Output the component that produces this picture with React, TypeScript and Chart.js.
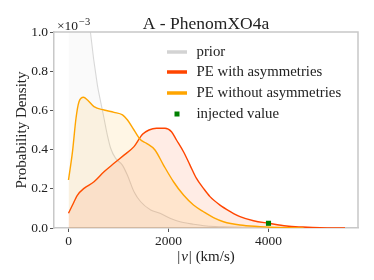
import React, { useEffect, useRef } from "react";
import { Chart, registerables } from "chart.js";

Chart.register(...registerables);

// ---- data (density in units of 1e-3) ----
const priorV = [0, 100, 200, 300, 430, 577, 643, 710, 777, 843, 943, 1077, 1177, 1310, 1443, 1643, 1830, 2030, 2230, 2500, 2760, 3100, 3500, 4000, 5000];
const priorD = [5, 2.8, 1.9, 1.4, 1.02, 0.73, 0.644, 0.56, 0.474, 0.407, 0.355, 0.321, 0.27, 0.185, 0.134, 0.092, 0.075, 0.05, 0.032, 0.019, 0.01, 0.006, 0.003, 0.001, 0];

const withAsymV = [0, 80, 180, 310, 510, 710, 910, 1110, 1310, 1480, 1610, 1760, 1930, 2060, 2160, 2300, 2430, 2560, 2700, 2830, 3030, 3230, 3430, 3700, 4000, 4360, 4690, 5030, 5530];
const withAsymD = [0.075, 0.117, 0.168, 0.202, 0.236, 0.287, 0.33, 0.372, 0.415, 0.478, 0.5, 0.509, 0.509, 0.491, 0.449, 0.389, 0.321, 0.253, 0.202, 0.16, 0.117, 0.085, 0.058, 0.037, 0.024, 0.01, 0.005, 0.0015, 0];

const withoutAsymV = [0, 80, 150, 210, 300, 380, 510, 710, 910, 1080, 1180, 1310, 1440, 1560, 1730, 1900, 2100, 2300, 2500, 2700, 2900, 3100, 3430, 3830, 4030, 4400, 4700];
const withoutAsymD = [0.245, 0.39, 0.56, 0.644, 0.667, 0.653, 0.619, 0.602, 0.59, 0.577, 0.551, 0.5, 0.45, 0.432, 0.398, 0.321, 0.236, 0.168, 0.117, 0.083, 0.053, 0.032, 0.015, 0.007, 0.004, 0.001, 0];

const injectedV = [4000];
const injectedD = [0.024];

const xTicks = [0, 2000, 4000];
const yTicks = [0, 0.2, 0.4, 0.6, 0.8, 1.0];

const legendLabels = ["prior", "PE with asymmetries", "PE without asymmetries", "injected value"];

const SERIF = '"Liberation Serif", "DejaVu Serif", serif';

const pts = (xs: number[], ys: number[]) => xs.map((x, i) => ({ x, y: ys[i] }));

const decorPlugin = {
  id: "decor",
  afterDraw(chart: any) {
    const { ctx, chartArea } = chart;
    const { left, right, top, bottom } = chartArea;
    ctx.save();
    // top & right spines
    ctx.strokeStyle = "#c8c8c8";
    ctx.lineWidth = 1.5;
    ctx.beginPath();
    ctx.moveTo(left, top);
    ctx.lineTo(right, top);
    ctx.lineTo(right, bottom);
    ctx.stroke();

    ctx.fillStyle = "#222";
    // title
    ctx.font = `17.5px ${SERIF}`;
    ctx.textAlign = "center";
    ctx.textBaseline = "alphabetic";
    ctx.fillText("A - PhenomXO4a", (left + right) / 2, 29);

    // offset text
    ctx.textAlign = "left";
    ctx.font = `13.5px ${SERIF}`;
    const base = "×10";
    ctx.fillText(base, 57, 30);
    const bw = ctx.measureText(base).width;
    ctx.font = `10.5px ${SERIF}`;
    ctx.fillText("−3", 57 + bw + 1, 24.5);

    // x axis title with italic v
    const cx = (left + right) / 2;
    const partA = "|";
    const partB = "v";
    const partC = "| (km/s)";
    ctx.font = `15px ${SERIF}`;
    const wA = ctx.measureText(partA).width;
    const wC = ctx.measureText(partC).width;
    ctx.font = `italic 15px ${SERIF}`;
    const wB = ctx.measureText(partB).width;
    const total = wA + wB + wC + 2;
    let x0 = cx - total / 2;
    ctx.textBaseline = "middle";
    ctx.font = `15px ${SERIF}`;
    ctx.fillText(partA, x0, 257);
    x0 += wA + 1;
    ctx.font = `italic 15px ${SERIF}`;
    ctx.fillText(partB, x0, 257);
    x0 += wB + 1;
    ctx.font = `15px ${SERIF}`;
    ctx.fillText(partC, x0, 257);

    // y axis title
    ctx.save();
    ctx.translate(22, (top + bottom) / 2);
    ctx.rotate(-Math.PI / 2);
    ctx.textAlign = "center";
    ctx.textBaseline = "middle";
    ctx.font = `15px ${SERIF}`;
    ctx.fillText("Probability Density", 0, 0);
    ctx.restore();

    // legend
    const rows = [52, 72, 93, 114];
    const colors = ["#d3d3d3", "#ff4500", "#ffa500"];
    ctx.lineCap = "butt";
    for (let i = 0; i < 3; i++) {
      ctx.strokeStyle = colors[i];
      ctx.lineWidth = 3.5;
      ctx.beginPath();
      ctx.moveTo(167, rows[i]);
      ctx.lineTo(187, rows[i]);
      ctx.stroke();
    }
    ctx.fillStyle = "#008000";
    ctx.fillRect(177 - 2.5, rows[3] - 2.5, 5, 5);
    ctx.fillStyle = "#222";
    ctx.font = `14.8px ${SERIF}`;
    ctx.textAlign = "left";
    ctx.textBaseline = "middle";
    legendLabels.forEach((t, i) => ctx.fillText(t, 196.5, rows[i]));
    ctx.restore();
  },
};

const bgPlugin = {
  id: "bg",
  beforeDraw(chart: any) {
    const { ctx, width, height } = chart;
    ctx.save();
    ctx.fillStyle = "#ffffff";
    ctx.fillRect(0, 0, width, height);
    ctx.restore();
  },
};

export default function App() {
  const ref = useRef<HTMLCanvasElement | null>(null);
  useEffect(() => {
    if (!ref.current) return;
    const tickFont = { family: SERIF, size: 13.5 };
    const chart = new Chart(ref.current, {
      type: "line",
      data: {
        datasets: [
          {
            label: legendLabels[3],
            data: pts(injectedV, injectedD),
            showLine: false,
            pointStyle: "rect",
            pointRadius: 3.6,
            pointBackgroundColor: "#008000",
            pointBorderColor: "#008000",
            pointBorderWidth: 0,
            order: 0,
          } as any,
          {
            label: legendLabels[2],
            data: pts(withoutAsymV, withoutAsymD),
            borderColor: "#ffa500",
            backgroundColor: "rgba(255,165,0,0.1)",
            borderWidth: 1.4,
            fill: "origin",
            pointRadius: 0,
            cubicInterpolationMode: "monotone",
            order: 1,
          },
          {
            label: legendLabels[1],
            data: pts(withAsymV, withAsymD),
            borderColor: "#ff4500",
            backgroundColor: "rgba(255,69,0,0.1)",
            borderWidth: 1.4,
            fill: "origin",
            pointRadius: 0,
            cubicInterpolationMode: "monotone",
            order: 2,
          },
          {
            label: legendLabels[0],
            data: pts(priorV, priorD),
            borderColor: "#d8d8d8",
            backgroundColor: "rgba(211,211,211,0.12)",
            borderWidth: 1.1,
            fill: "origin",
            pointRadius: 0,
            cubicInterpolationMode: "monotone",
            order: 3,
          },
        ],
      },
      options: {
        animation: false,
        responsive: false,
        devicePixelRatio: 1,
        layout: { padding: { left: 0, right: 16, top: 32, bottom: 0 } },
        plugins: { legend: { display: false }, title: { display: false }, tooltip: { enabled: false } },
        scales: {
          x: {
            type: "linear",
            min: -290,
            max: 5790,
            afterBuildTicks: (s: any) => {
              s.ticks = xTicks.map((v) => ({ value: v }));
            },
            afterFit: (s: any) => {
              s.height = 52;
            },
            ticks: { font: tickFont, color: "#222", padding: 1, maxRotation: 0, callback: (v: any) => String(v) },
            grid: { drawOnChartArea: false, drawTicks: true, tickLength: 4, color: "#555" },
            border: { color: "#c8c8c8", width: 1.5 },
          },
          y: {
            type: "linear",
            min: 0,
            max: 1.0,
            afterBuildTicks: (s: any) => {
              s.ticks = yTicks.map((v) => ({ value: v }));
            },
            afterFit: (s: any) => {
              s.width = 54;
            },
            ticks: { font: tickFont, color: "#222", padding: 2, callback: (v: any) => Number(v).toFixed(1) },
            grid: { drawOnChartArea: false, drawTicks: true, tickLength: 4, color: "#555" },
            border: { color: "#c8c8c8", width: 1.5 },
          },
        },
      },
      plugins: [bgPlugin, decorPlugin],
    });
    return () => chart.destroy();
  }, []);
  return (
    <div style={{ position: "fixed", left: 0, top: 0, width: 374, height: 280, background: "#fff" }}>
      <canvas ref={ref} width={374} height={280} style={{ width: 374, height: 280 }} />
    </div>
  );
}
